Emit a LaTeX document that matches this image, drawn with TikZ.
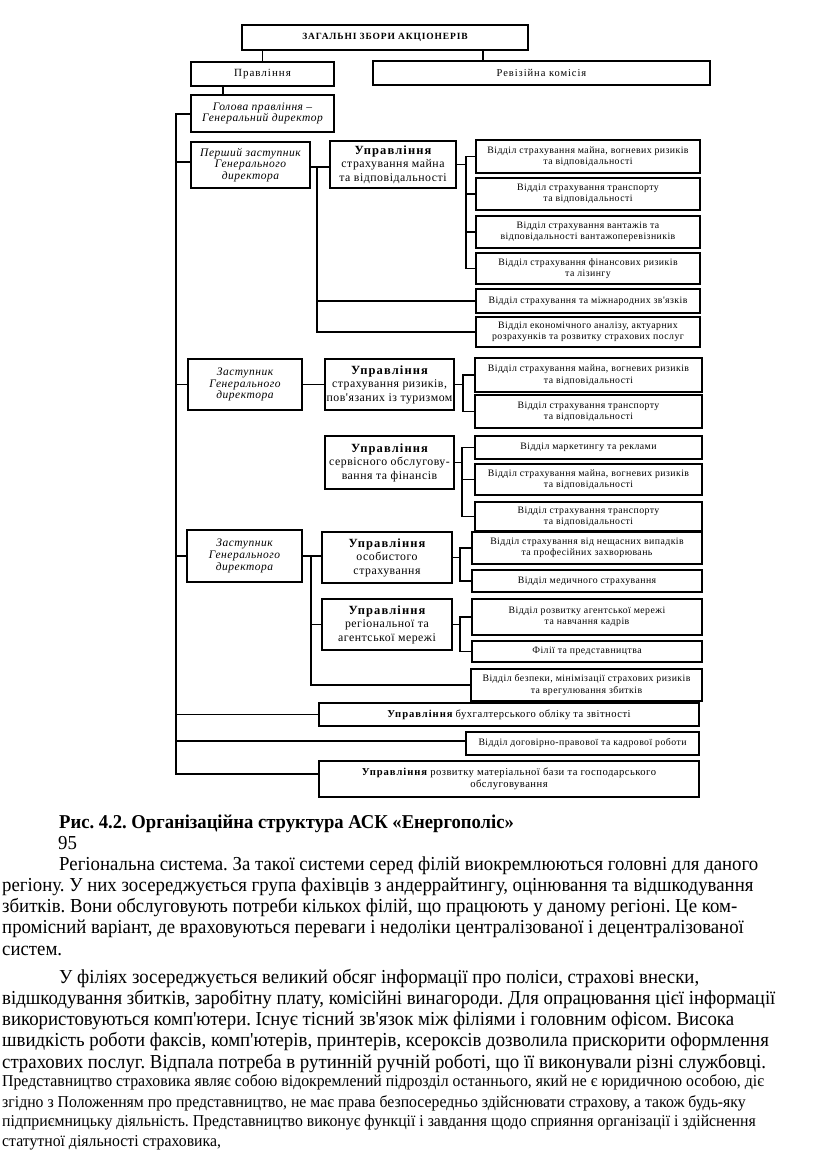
\documentclass[tikz,border=0pt]{standalone}
\usepackage{fontspec}
\setmainfont{Liberation Serif}[Ligatures=TeXOff]
\newfontfamily\bodyfont{Liberation Serif}[Ligatures=TeXOff, FakeStretch=0.95]
\newfontfamily\dfont{Liberation Serif}[LetterSpace=4.5, Ligatures=TeXOff]
\newfontfamily\hfont{Liberation Serif}[LetterSpace=9, Ligatures=TeXOff]
\usetikzlibrary{calc}
\newcommand\BX[7]{\node[#6, minimum width={(#4)-(#2)}, minimum height={(#5)-(#3)}] (#1) at ({((#2)+(#4))/2},{((#3)+(#5))/2}) {#7};}
\newcommand\hd[1]{{\hfont\bfseries\fontsize{12.5}{14.5}\selectfont #1}}
\tikzset{
  bx/.style={draw, line width=1.3pt, inner sep=1pt, align=center},
  rb/.style={bx, font=\dfont\fontsize{9.8}{11.2}\selectfont},
  um/.style={bx, line width=1.5pt, font=\dfont\fontsize{11.8}{13.5}\selectfont},
  it/.style={bx, font=\dfont\itshape\fontsize{11.5}{11.8}\selectfont},
  ln/.style={line width=1.3pt},
  body/.style={anchor=base west, inner sep=0pt, font=\bodyfont\fontsize{19.8}{24}\selectfont},
  small/.style={anchor=base west, inner sep=0pt, font=\bodyfont\fontsize{16.6}{20}\selectfont}
}
\begin{document}
\frenchspacing
\begin{tikzpicture}[x=1pt,y=-1pt]
\fill[white] (0,0) rectangle (816,1151);
\useasboundingbox (0,0) rectangle (816,1151);
% top levels
\BX{top}{242}{25}{528}{50}{bx, font=\hfont\bfseries\fontsize{9.5}{11}\selectfont}{ЗАГАЛЬНІ ЗБОРИ АКЦІОНЕРІВ}
\BX{prav}{191}{62}{334}{86}{bx, font=\hfont\fontsize{11}{13}\selectfont}{Правління}
\BX{rev}{373}{61}{710}{85}{bx, font=\hfont\fontsize{10.5}{13}\selectfont}{Ревізійна комісія}
\BX{golova}{191}{95}{334}{132}{it}{Голова правління –\\Генеральний директор}
\BX{pershyi}{191}{142}{310}{188}{it}{Перший заступник\\Генерального\\директора}
\BX{um1}{330}{141}{456}{188}{um}{\hd{Управління}\\страхування майна\\та відповідальності}
\BX{r1}{476}{140}{700}{173}{rb}{Відділ страхування майна, вогневих ризиків\\та відповідальності}
\BX{r2}{476}{178}{700}{210}{rb}{Відділ страхування транспорту\\та відповідальності}
\BX{r3}{476}{216}{700}{248}{rb}{Відділ страхування вантажів та\\відповідальності вантажоперевізників}
\BX{r4}{476}{253}{700}{284}{rb}{Відділ страхування фінансових ризиків\\та лізингу}
\BX{r5}{476}{289}{700}{313}{rb}{Відділ страхування та міжнародних зв'язків}
\BX{r6}{476}{317}{700}{347}{rb}{Відділ економічного аналізу, актуарних\\розрахунків та розвитку страхових послуг}
\BX{zast1}{188}{359}{302}{410}{it}{Заступник\\Генерального\\директора}
\BX{um2}{325}{359}{454}{410}{um}{\hd{Управління}\\страхування ризиків,\\пов'язаних із туризмом}
\BX{a1}{475}{358}{702}{392}{rb}{Відділ страхування майна, вогневих ризиків\\та відповідальності}
\BX{a2}{475}{395}{702}{428}{rb}{Відділ страхування транспорту\\та відповідальності}
\BX{um3}{325}{436}{454}{489}{um}{\hd{Управління}\\сервісного обслугову-\\вання та фінансів}
\BX{b1}{475}{436}{702}{459}{rb}{Відділ маркетингу та реклами}
\BX{b2}{475}{464}{702}{495}{rb}{Відділ страхування майна, вогневих ризиків\\та відповідальності}
\BX{b3}{475}{502}{702}{531}{rb}{Відділ страхування транспорту\\та відповідальності}
\BX{zast2}{187}{530}{302}{582}{it}{Заступник\\Генерального\\директора}
\BX{um4}{322}{532}{452}{583}{um}{\hd{Управління}\\особистого\\страхування}
\BX{c1}{472}{532}{702}{564}{rb}{Відділ страхування від нещасних випадків\\та професійних захворювань}
\BX{c2}{472}{570}{702}{592}{rb}{Відділ медичного страхування}
\BX{um5}{322}{599}{452}{650}{um}{\hd{Управління}\\регіональної та\\агентської мережі}
\BX{d1}{472}{599}{702}{635}{rb}{Відділ розвитку агентської мережі\\та навчання кадрів}
\BX{d2}{472}{641}{702}{662}{rb}{Філії та представництва}
\BX{e}{471}{669}{702}{701}{rb}{Відділ безпеки, мінімізації страхових ризиків\\та врегулювання збитків}
\BX{f}{319}{703}{699}{726}{bx, font=\dfont\fontsize{10.6}{12}\selectfont}{{\hfont\bfseries Управління} бухгалтерського обліку та звітності}
\BX{g}{466}{732}{699}{755}{rb}{Відділ договірно-правової та кадрової роботи}
\BX{h}{319}{761}{699}{797}{bx, font=\dfont\fontsize{10.6}{12}\selectfont}{{\hfont\bfseries Управління} розвитку матеріальної бази та господарського\\обслуговування}
% connectors top
\draw[ln] (prav.north) -- (prav.north |- top.south);
\draw[ln] (rev.north -| 483,0) -- (top.south -| 483,0);
\draw[ln] (prav.south -| 223,0) -- (golova.north -| 223,0);
% spine
\coordinate (s0) at (176,114);
\coordinate (s1) at (176,774);
\draw[ln] (golova.west |- s0) -- (s0) -- (s1) -- (h.west |- s1);
\draw[ln] (pershyi.west |- 0,162) -- (s0 |- 0,162);
\draw[ln] (zast1.west) -- (zast1.west -| s0);
\draw[ln] (zast2.west) -- (zast2.west -| s0);
\draw[ln] (f.west) -- (f.west -| s0);
\draw[ln] (g.west |- 0,741) -- (s0 |- 0,741);
% first deputy
\coordinate (v1) at (317,167);
\draw[ln] (pershyi.east |- v1) -- (um1.west |- v1);
\draw[ln] (v1) |- (r6.west);
\draw[ln] (r5.west) -- (r5.west -| v1);
\coordinate (j1) at (466,164.5);
\draw[ln] (um1.east) -- (j1);
\foreach \n in {r1,r2,r3,r4} \draw[ln] (\n.west) -| (j1);
% deputy 1
\draw[ln] (zast1.east) -- (um2.west);
\coordinate (j2) at (463,384.5);
\draw[ln] (um2.east) -- (j2);
\foreach \n in {a1,a2} \draw[ln] (\n.west) -| (j2);
\coordinate (j3) at (462,462.5);
\draw[ln] (um3.east) -- (j3);
\foreach \n in {b1,b2,b3} \draw[ln] (\n.west) -| (j3);
% deputy 2
\coordinate (v2) at (311,556);
\draw[ln] (zast2.east) -- (um4.west |- zast2.east);
\draw[ln] (v2) |- (e.west);
\draw[ln] (um5.west) -- (um5.west -| v2);
\coordinate (j4) at (460,557.5);
\draw[ln] (um4.east) -- (j4);
\foreach \n in {c1,c2} \draw[ln] (\n.west) -| (j4);
\coordinate (j5) at (460,624.5);
\draw[ln] (um5.east) -- (j5);
\foreach \n in {d1,d2} \draw[ln] (\n.west) -| (j5);
% text below
\node[anchor=base west, inner sep=0pt, font=\bodyfont\bfseries\fontsize{19.6}{23}\selectfont] (cap) at (59,828) {Рис. 4.2. Організаційна структура АСК «Енергополіс»};
\node[body] (p0) at (58,849) {95};
\node[body] (p1) at (59,870.5) {Регіональна система. За такої системи серед філій виокремлюються головні для даного};
\node[body] (p2) at (2,891.5) {регіону. У них зосереджується група фахівців з андеррайтингу, оцінювання та відшкодування};
\node[body] (p3) at (2,912.5) {збитків. Вони обслуговують потреби кількох філій, що працюють у даному регіоні. Це ком-};
\node[body] (p4) at (2,933.5) {промісний варіант, де враховуються переваги і недоліки централізованої і децентралізованої};
\node[body] (p5) at (2,955) {систем.};
\node[body] (p6) at (59,983) {У філіях зосереджується великий обсяг інформації про поліси, страхові внески,};
\node[body] (p7) at (2,1004) {відшкодування збитків, заробітну плату, комісійні винагороди. Для опрацювання цієї інформації};
\node[body] (p8) at (2,1025) {використовуються комп'ютери. Існує тісний зв'язок між філіями і головним офісом. Висока};
\node[body] (p9) at (2,1046.5) {швидкість роботи факсів, комп'ютерів, принтерів, ксероксів дозволила прискорити оформлення};
\node[body] (p10) at (2,1068) {страхових послуг. Відпала потреба в рутинній ручній роботі, що її виконували різні службовці.};
\node[small] (q1) at (2,1086.5) {Представництво страховика являє собою відокремлений підрозділ останнього, який не є юридичною особою, діє};
\node[small] (q2) at (2,1107) {згідно з Положенням про представництво, не має права безпосередньо здійснювати страхову, а також будь-яку};
\node[small] (q3) at (2,1126.5) {підприємницьку діяльність. Представництво виконує функції і завдання щодо сприяння організації і здійснення};
\node[small] (q4) at (2,1146.5) {статутної діяльності страховика,};
\end{tikzpicture}
\end{document}
